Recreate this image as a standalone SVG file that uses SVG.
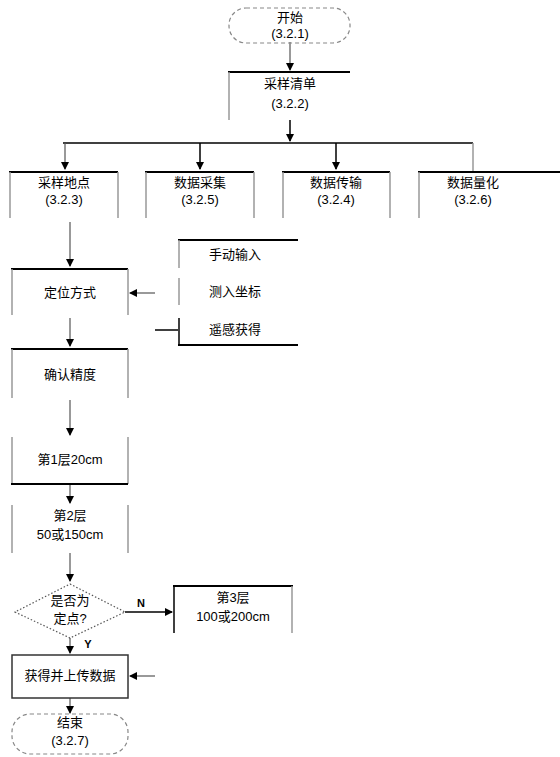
<svg xmlns="http://www.w3.org/2000/svg" width="560" height="757" viewBox="0 0 560 757">
<defs>
<marker id="ah" markerWidth="8" markerHeight="8" refX="7" refY="4" orient="auto" markerUnits="userSpaceOnUse">
<path d="M0,0 L8,4 L0,8 Z" fill="#000"/>
</marker>
<style>
.t{font-family:"Liberation Sans","Noto Sans CJK SC",sans-serif;font-size:13px;fill:#000;text-anchor:middle}
.top{stroke:#000;stroke-width:2;fill:none}
.side{stroke:#999;stroke-width:1.5;fill:none}
.ln{stroke:#555;stroke-width:1.2;fill:none}
.lk{stroke:#000;stroke-width:1.5;fill:none}
.term{stroke:#888;stroke-width:1.2;stroke-dasharray:4 3;fill:none}
</style>
</defs>
<rect width="560" height="757" fill="#fff"/>
<g id="connectors">
<line class="ln" x1="290" y1="42" x2="290" y2="70" marker-end="url(#ah)"/>
<line class="lk" x1="290" y1="120" x2="290" y2="141" marker-end="url(#ah)"/>
<line class="lk" x1="63" y1="143" x2="473" y2="143"/>
<line class="side" x1="473" y1="143" x2="473" y2="171"/>
<line class="ln" x1="65" y1="143" x2="65" y2="169" marker-end="url(#ah)"/>
<line class="lk" x1="200" y1="143" x2="200" y2="169" marker-end="url(#ah)"/>
<line class="lk" x1="336" y1="143" x2="336" y2="169" marker-end="url(#ah)"/>
<line class="ln" x1="70" y1="222" x2="70" y2="266" marker-end="url(#ah)"/>
<line class="ln" x1="155" y1="293" x2="130" y2="293" marker-end="url(#ah)"/>
<line class="lk" x1="155" y1="330" x2="178" y2="330"/>
<line class="ln" x1="70" y1="318" x2="70" y2="346" marker-end="url(#ah)"/>
<line class="ln" x1="70" y1="400" x2="70" y2="435" marker-end="url(#ah)"/>
<line class="ln" x1="70" y1="485" x2="70" y2="503" marker-end="url(#ah)"/>
<line class="ln" x1="70" y1="553" x2="70" y2="581" marker-end="url(#ah)"/>
<line class="lk" x1="125" y1="612" x2="172" y2="612" marker-end="url(#ah)"/>
<text class="t" x="141" y="607" style="font-size:11px;font-weight:bold">N</text>
<line class="ln" x1="70" y1="638" x2="70" y2="653" marker-end="url(#ah)"/>
<text class="t" x="88" y="648" style="font-size:11px;font-weight:bold">Y</text>
<line class="ln" x1="155" y1="676" x2="130" y2="676" marker-end="url(#ah)"/>
<line class="ln" x1="70" y1="698" x2="70" y2="713" marker-end="url(#ah)"/>
</g>
<g id="start">
<rect class="term" x="229" y="8" width="121" height="35" rx="17"/>
<text class="t" x="290" y="22">开始</text>
<text class="t" x="290" y="38">(3.2.1)</text>
</g>
<g id="n2">
<line class="top" x1="228" y1="72" x2="350" y2="72"/>
<line class="side" x1="229" y1="72" x2="229" y2="120"/>
<text class="t" x="290" y="88">采样清单</text>
<text class="t" x="290" y="108">(3.2.2)</text>
</g>
<g id="n3">
<line class="top" x1="9" y1="172" x2="118" y2="172"/>
<line class="side" x1="10" y1="172" x2="10" y2="218"/>
<line class="side" x1="118" y1="172" x2="118" y2="218"/>
<text class="t" x="64" y="187">采样地点</text>
<text class="t" x="64" y="204">(3.2.3)</text>
</g>
<g id="n4">
<line class="top" x1="145" y1="172" x2="254" y2="172"/>
<line class="side" x1="146" y1="172" x2="146" y2="218"/>
<line class="side" x1="254" y1="172" x2="254" y2="218"/>
<text class="t" x="200" y="187">数据采集</text>
<text class="t" x="200" y="204">(3.2.5)</text>
</g>
<g id="n5">
<line class="top" x1="282" y1="172" x2="390" y2="172"/>
<line class="side" x1="283" y1="172" x2="283" y2="218"/>
<line class="side" x1="390" y1="172" x2="390" y2="218"/>
<text class="t" x="336" y="187">数据传输</text>
<text class="t" x="336" y="204">(3.2.4)</text>
</g>
<g id="n6">
<line class="top" x1="418" y1="172" x2="560" y2="172"/>
<line class="side" x1="419" y1="172" x2="419" y2="218"/>
<text class="t" x="473" y="187">数据量化</text>
<text class="t" x="473" y="204">(3.2.6)</text>
</g>
<g id="n7">
<line class="top" x1="11" y1="269" x2="128" y2="269"/>
<line class="side" x1="12" y1="269" x2="12" y2="315"/>
<line class="side" x1="128" y1="269" x2="128" y2="315"/>
<text class="t" x="70" y="297">定位方式</text>
</g>
<g id="n8">
<line class="top" x1="178" y1="240" x2="298" y2="240"/>
<line class="top" x1="178" y1="345" x2="298" y2="345"/>
<line class="side" x1="179" y1="240" x2="179" y2="268"/>
<line class="side" x1="179" y1="278" x2="179" y2="305"/>
<line class="lk" x1="179" y1="318" x2="179" y2="345"/>
<text class="t" x="235" y="259">手动输入</text>
<text class="t" x="235" y="296">测入坐标</text>
<text class="t" x="235" y="334">遥感获得</text>
</g>
<g id="n9">
<line class="top" x1="11" y1="349" x2="128" y2="349"/>
<line class="side" x1="12" y1="349" x2="12" y2="398"/>
<line class="side" x1="128" y1="349" x2="128" y2="398"/>
<text class="t" x="70" y="379">确认精度</text>
</g>
<g id="n10">
<line class="side" x1="12" y1="437" x2="12" y2="484"/>
<line class="side" x1="128" y1="437" x2="128" y2="484"/>
<line class="top" x1="11" y1="484" x2="128" y2="484"/>
<text class="t" x="70" y="464">第1层20cm</text>
</g>
<g id="n11">
<line class="side" x1="12" y1="505" x2="12" y2="553"/>
<line class="side" x1="128" y1="505" x2="128" y2="553"/>
<text class="t" x="70" y="520">第2层</text>
<text class="t" x="70" y="539">50或150cm</text>
</g>
<g id="d1">
<polygon points="70,584 125,612 70,638 15,612" fill="none" stroke="#555" stroke-width="1.2" stroke-dasharray="1.5 2"/>
<text class="t" x="70" y="605">是否为</text>
<text class="t" x="70" y="623">定点?</text>
</g>
<g id="n12">
<line class="top" x1="173" y1="586" x2="293" y2="586"/>
<line class="lk" x1="174" y1="586" x2="174" y2="633"/>
<line class="side" x1="292" y1="586" x2="292" y2="633"/>
<text class="t" x="233" y="602">第3层</text>
<text class="t" x="233" y="621">100或200cm</text>
</g>
<g id="n13">
<rect x="12" y="655" width="116" height="43" fill="none" stroke="#333" stroke-width="1.5"/>
<text class="t" x="70" y="680">获得并上传数据</text>
</g>
<g id="end">
<rect class="term" x="12" y="714" width="116" height="40" rx="18"/>
<text class="t" x="70" y="727">结束</text>
<text class="t" x="70" y="745">(3.2.7)</text>
</g>
</svg>
